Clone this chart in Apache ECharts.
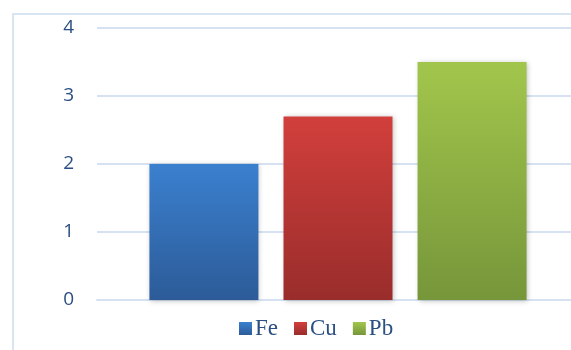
<!DOCTYPE html>
<html>
<head>
<meta charset="utf-8">
<script src="https://cdn.jsdelivr.net/npm/echarts@6/dist/echarts.min.js"></script>
<style>
  html, body { margin: 0; padding: 0; background: #fff; }
  #chart { width: 571px; height: 350px; }
</style>
</head>
<body>
<div id="chart"></div>
<script>
// data
var metals = ["Fe", "Cu", "Pb"];
var values = [2, 2.7, 3.5];
var yTicks = [0, 1, 2, 3, 4];

var topColors = ["#3b80cf", "#d23f3c", "#a2c64c"];
var bottomColors = ["#2c5b98", "#992d2b", "#76963a"];

var chart = echarts.init(document.getElementById("chart"));

var series = metals.map(function(name, i) {
  return {
    name: name,
    type: "bar",
    barWidth: 109,
    barGap: "23%",
    data: [values[i]],
    itemStyle: {
      color: new echarts.graphic.LinearGradient(0, 0, 0, 1, [
        { offset: 0, color: topColors[i] },
        { offset: 1, color: bottomColors[i] }
      ]),
      shadowColor: "rgba(0,0,0,0.25)",
      shadowBlur: 5,
      shadowOffsetX: 1,
      shadowOffsetY: 1
    }
  };
});

chart.setOption({
  animation: false,
  graphic: [
    {
      type: "rect",
      shape: { x: 13, y: 14, width: 600, height: 400 },
      style: { fill: "none", stroke: "#d9e4f3", lineWidth: 2 },
      z: -1
    }
  ],
  grid: {
    left: 97,
    right: -8,
    top: 28,
    bottom: 50,
    outerBoundsMode: "none"
  },
  legend: {
    data: metals.map(function(m, i) {
      return {
        name: m,
        itemStyle: {
          color: new echarts.graphic.LinearGradient(0, 0, 0, 1, [
            { offset: 0, color: topColors[i] },
            { offset: 1, color: bottomColors[i] }
          ])
        }
      };
    }),
    left: 234,
    top: 312,
    icon: "rect",
    itemWidth: 13,
    itemHeight: 13,
    itemGap: 16,
    textStyle: {
      fontFamily: "Liberation Serif",
      fontSize: 23,
      color: "#2b4f82",
      padding: [0, 0, 0, -2]
    }
  },
  xAxis: {
    type: "category",
    data: [""],
    axisLine: { lineStyle: { color: "#d6e2f2", width: 2 } },
    axisTick: { show: false },
    axisLabel: { show: false }
  },
  yAxis: {
    type: "value",
    min: yTicks[0],
    max: yTicks[yTicks.length - 1],
    interval: 1,
    axisLine: { show: false },
    axisTick: { show: false },
    axisLabel: {
      margin: 23,
      fontFamily: "Open Sans",
      fontSize: 19,
      color: "#2b4f82"
    },
    splitLine: { lineStyle: { color: "#d6e2f2", width: 2 } }
  },
  series: series
});
</script>
</body>
</html>
